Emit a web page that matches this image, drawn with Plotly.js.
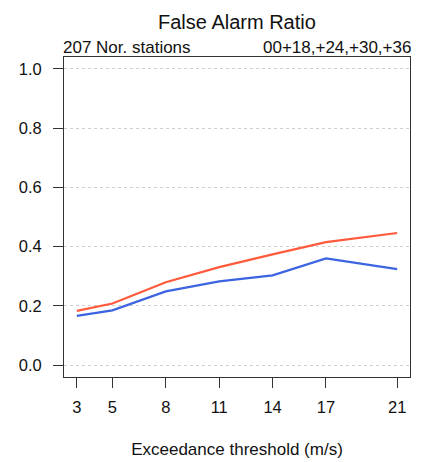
<!DOCTYPE html>
<html><head><meta charset="utf-8">
<script src="https://cdn.plot.ly/plotly-3.0.1.min.js"></script>
<style>html,body{margin:0;padding:0;background:#fff}#chart{width:428px;height:462px}</style>
</head><body><div id="chart"></div>
<script>
var thresholds = [3, 5, 8, 11, 14, 17, 21];
var redSeries = [0.183, 0.208, 0.280, 0.331, 0.374, 0.415, 0.446];
var blueSeries = [0.166, 0.185, 0.249, 0.283, 0.303, 0.360, 0.324];
var yTicks = [0.0, 0.2, 0.4, 0.6, 0.8, 1.0];
var yTickText = ["0.0", "0.2", "0.4", "0.6", "0.8", "1.0"];
var titleText = "False Alarm Ratio";
var leftNote = "207 Nor. stations";
var rightNote = "00+18,+24,+30,+36";
var xTitle = "Exceedance threshold (m/s)";

var font = "Liberation Sans, Arial, Helvetica, sans-serif";
var traces = [
  {x: thresholds, y: redSeries, type: "scatter", mode: "lines", line: {color: "#ff5a3c", width: 2.2}, hoverinfo: "skip"},
  {x: thresholds, y: blueSeries, type: "scatter", mode: "lines", line: {color: "#3d64e0", width: 2.2}, hoverinfo: "skip"}
];
var layout = {
  width: 428, height: 462,
  margin: {l: 64, r: 18, t: 57, b: 85},
  paper_bgcolor: "#fff", plot_bgcolor: "#fff",
  showlegend: false,
  font: {family: font, size: 16.5, color: "#111"},
  title: {text: titleText, font: {family: font, size: 20, color: "#111"}, x: 0.5536, xanchor: "center", y: 0.953, yanchor: "middle"},
  xaxis: {
    range: [2.28, 21.72], tickvals: thresholds, ticktext: thresholds.map(String),
    ticks: "outside", ticklen: 10, tickcolor: "#333", tickwidth: 1,
    tickfont: {family: font, size: 16.5, color: "#111"},
    showline: true, linecolor: "#333", linewidth: 1, mirror: true,
    showgrid: false, zeroline: false, ticklabelstandoff: 5,
    title: {text: xTitle, font: {family: font, size: 17, color: "#111"}, standoff: 28}
  },
  yaxis: {
    range: [-0.04, 1.04], tickvals: yTicks, ticktext: yTickText,
    ticks: "outside", ticklen: 10, tickcolor: "#333", tickwidth: 1,
    tickfont: {family: font, size: 16.5, color: "#111"},
    showline: true, linecolor: "#333", linewidth: 1, mirror: true,
    showgrid: true, gridcolor: "#cfcfcf", griddash: "dot", gridwidth: 1,
    zeroline: false, ticklabelstandoff: 8
  },
  annotations: [
    {text: leftNote, xref: "paper", yref: "paper", x: 0, y: 1, xanchor: "left", yanchor: "bottom", xshift: -3, yshift: -2, showarrow: false, font: {family: font, size: 17, color: "#111"}},
    {text: rightNote, xref: "paper", yref: "paper", x: 1, y: 1, xanchor: "right", yanchor: "bottom", xshift: 3, yshift: -2, showarrow: false, font: {family: font, size: 17, color: "#111"}}
  ]
};
Plotly.newPlot("chart", traces, layout, {displayModeBar: false, staticPlot: true});
</script></body></html>
